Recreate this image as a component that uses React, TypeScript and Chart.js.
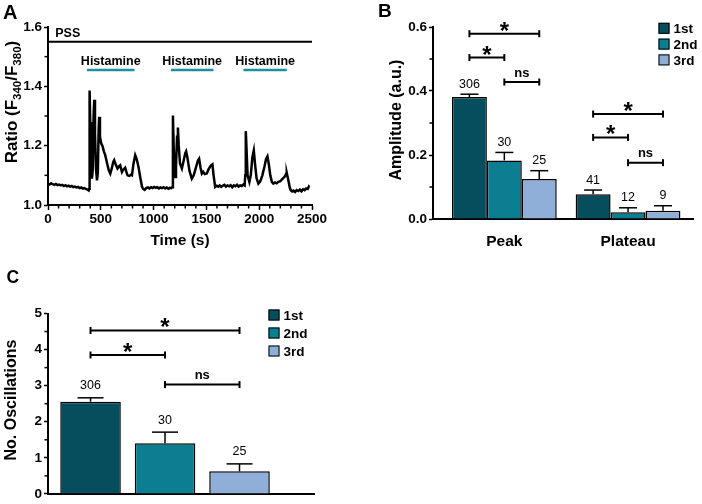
import React, { useEffect, useRef } from "react";
import { Chart, registerables } from "chart.js";
Chart.register(...registerables);

const FONT = '"Liberation Sans", Arial, Helvetica, sans-serif';

// ---------------- Panel A data ----------------
const traceTime = [
  0, 15, 30, 45, 60, 75, 90, 105, 120, 135, 150, 165, 180, 195, 210, 225, 240, 255, 270, 285, 300, 315, 330, 345, 360, 372, 385,
  390, 394, 400, 407, 416, 424, 432, 438, 445, 455, 464, 472, 480, 485, 492, 504, 515, 530, 542, 560, 575, 590, 605, 618, 627,
  640, 658, 672, 684, 700, 715, 731, 745, 753, 770, 785, 795, 810, 826, 840, 857, 875, 890, 899,
  915, 930, 945, 960, 975, 990, 1005, 1020, 1035, 1050, 1065, 1080, 1095, 1110, 1125, 1140, 1155, 1168, 1176,
  1183, 1190, 1197, 1204, 1212, 1222, 1230, 1238, 1250, 1268, 1285, 1300, 1308, 1320, 1340, 1362, 1380, 1400, 1420, 1431,
  1445, 1457, 1470, 1485, 1504, 1520, 1540, 1557, 1568, 1583,
  1598, 1612, 1626, 1640, 1655, 1670, 1685, 1700, 1715, 1730, 1745, 1760, 1775, 1790, 1805, 1820, 1835, 1850, 1862,
  1868, 1873, 1880, 1890, 1907, 1920, 1935, 1949, 1960, 1975, 1992, 2010, 2030, 2050, 2065, 2078, 2090, 2105, 2120, 2134,
  2150, 2165, 2182, 2200, 2220, 2240, 2255, 2261, 2275, 2290, 2299,
  2312, 2325, 2340, 2355, 2370, 2385, 2400, 2415, 2430, 2445, 2460, 2470, 2475,
];
const traceRatio = [
  1.072, 1.069, 1.073, 1.07, 1.068, 1.071, 1.067, 1.069, 1.066, 1.068, 1.064, 1.067, 1.063, 1.065, 1.062, 1.064, 1.06, 1.062, 1.059, 1.061, 1.057, 1.059, 1.055, 1.057, 1.054, 1.052, 1.049,
  1.055, 1.386, 1.28, 1.15, 1.089, 1.12, 1.3, 1.355, 1.24, 1.12, 1.083, 1.11, 1.26, 1.297, 1.23, 1.207, 1.2, 1.18, 1.168, 1.14, 1.118, 1.106, 1.125, 1.145, 1.151,
  1.138, 1.123, 1.13, 1.134, 1.111, 1.12, 1.126, 1.108, 1.1, 1.098, 1.102, 1.1, 1.14, 1.168, 1.155, 1.128, 1.09, 1.062, 1.055,
  1.051, 1.057, 1.059, 1.056, 1.06, 1.057, 1.061, 1.058, 1.06, 1.056, 1.059, 1.057, 1.06, 1.056, 1.059, 1.055, 1.058, 1.057, 1.06,
  1.302, 1.2, 1.12, 1.094, 1.13, 1.23, 1.261, 1.2, 1.14, 1.123, 1.15, 1.175, 1.181, 1.16, 1.115, 1.089, 1.1, 1.125, 1.15, 1.156,
  1.125, 1.106, 1.112, 1.104, 1.106, 1.12, 1.132, 1.137, 1.1, 1.061,
  1.065, 1.062, 1.066, 1.061, 1.065, 1.068, 1.062, 1.066, 1.063, 1.067, 1.06, 1.066, 1.063, 1.068, 1.062, 1.066, 1.064, 1.069, 1.066,
  1.1, 1.249, 1.19, 1.1, 1.078, 1.1, 1.16, 1.184, 1.14, 1.09, 1.072, 1.08, 1.1, 1.13, 1.155, 1.164, 1.14, 1.1, 1.078, 1.072,
  1.076, 1.073, 1.078, 1.08, 1.088, 1.095, 1.105, 1.108, 1.085, 1.058, 1.05,
  1.046, 1.049, 1.044, 1.05, 1.047, 1.052, 1.046, 1.053, 1.05, 1.056, 1.054, 1.062, 1.06,
];
const aXTicks = [0, 500, 1000, 1500, 2000, 2500];
const aYTicks = [1.0, 1.2, 1.4, 1.6];
const aMinorXStep = 100;
const aMinorYStep = 0.1;
const pssLevel = 1.55;
const pssLabel = "PSS";
const pssLabelTime = 69;
const histamineStart = [369, 1164, 1851];
const histamineEnd = [819, 1567, 2261];
const histamineLevel = 1.455;
const histamineLabel = "Histamine";

// ---------------- Panel B data ----------------
const ampGroups = ["Peak", "Plateau"];
const seriesNames = ["1st", "2nd", "3rd"];
const ampFirst = [0.381, 0.077];
const ampSecond = [0.183, 0.021];
const ampThird = [0.125, 0.026];
const ampErrFirst = [0.009, 0.0135];
const ampErrSecond = [0.025, 0.014];
const ampErrThird = [0.026, 0.0155];
const ampNFirst = [306, 41];
const ampNSecond = [30, 12];
const ampNThird = [25, 9];
const ampYTicks = [0, 0.2, 0.4, 0.6];
const ampMinorStep = 0.1;
const ampBrGroup = [0, 0, 0, 1, 1, 1];
const ampBrFrom = [0, 0, 1, 0, 0, 1];
const ampBrTo = [2, 1, 2, 2, 1, 2];
const ampBrLevel = [0.579, 0.5045, 0.428, 0.328, 0.255, 0.176];
const ampBrLabel = ["*", "*", "ns", "*", "*", "ns"];

// ---------------- Panel C data ----------------
const oscMean = [2.555, 1.402, 0.625];
const oscErr = [0.108, 0.31, 0.207];
const oscN = [306, 30, 25];
const oscYTicks = [0, 1, 2, 3, 4, 5];
const oscMinorStep = 0.5;
const oscBrFrom = [0, 0, 1];
const oscBrTo = [2, 1, 2];
const oscBrLevel = [4.53, 3.85, 3.03];
const oscBrLabel = ["*", "*", "ns"];

// ---------------- styles ----------------
const seriesColors = ["#064e5e", "#0b7e92", "#8fafd8"];
const histColor = "#1d8fa3";

function drawLine(ctx: CanvasRenderingContext2D, x1: number, y1: number, x2: number, y2: number) {
  ctx.beginPath();
  ctx.moveTo(x1, y1);
  ctx.lineTo(x2, y2);
  ctx.stroke();
}

function minorY(ctx: CanvasRenderingContext2D, ys: any, majors: number[], step: number, len: number) {
  const min = majors[0];
  const max = majors[majors.length - 1];
  const n = Math.round((max - min) / step);
  for (let i = 0; i <= n; i++) {
    const v = min + i * step;
    if (majors.some((m) => Math.abs(m - v) < 1e-6)) continue;
    const py = ys.getPixelForValue(v);
    drawLine(ctx, ys.right - 1 - len, py, ys.right, py);
  }
}

function rotatedText(ctx: CanvasRenderingContext2D, text: string, cx: number, cy: number, size: number) {
  ctx.save();
  ctx.translate(cx, cy);
  ctx.rotate(-Math.PI / 2);
  ctx.font = `bold ${size}px ${FONT}`;
  ctx.textAlign = "center";
  ctx.textBaseline = "alphabetic";
  ctx.fillText(text, 0, 0);
  ctx.restore();
}

const panelAPlugin = {
  id: "panelA",
  afterDraw(chart: any) {
    const { ctx } = chart;
    const x = chart.scales.x;
    const y = chart.scales.y;
    ctx.save();
    ctx.strokeStyle = "#000";
    ctx.fillStyle = "#000";
    ctx.lineWidth = 1.5;
    for (let t = aXTicks[0]; t <= aXTicks[aXTicks.length - 1]; t += aMinorXStep) {
      if (aXTicks.includes(t)) continue;
      const px = x.getPixelForValue(t);
      drawLine(ctx, px, x.top, px, x.top + 3.5);
    }
    minorY(ctx, y, aYTicks, aMinorYStep, 2.5);
    ctx.lineWidth = 2;
    const py = y.getPixelForValue(pssLevel);
    drawLine(ctx, x.left, py, x.right, py);
    ctx.font = `bold 12.5px ${FONT}`;
    ctx.textAlign = "left";
    ctx.textBaseline = "alphabetic";
    ctx.fillText(pssLabel, x.getPixelForValue(pssLabelTime), py - 5);
    const hy = y.getPixelForValue(histamineLevel);
    for (let i = 0; i < histamineStart.length; i++) {
      const x1 = x.getPixelForValue(histamineStart[i]);
      const x2 = x.getPixelForValue(histamineEnd[i]);
      ctx.strokeStyle = histColor;
      ctx.lineWidth = 2.5;
      drawLine(ctx, x1, hy, x2, hy);
      ctx.textAlign = "center";
      ctx.fillText(histamineLabel, (x1 + x2) / 2, hy - 5);
    }
    ctx.font = `bold 15.5px ${FONT}`;
    ctx.textAlign = "center";
    ctx.fillText("Time (s)", (x.left + x.right) / 2, 245);
    const segs: [string, number, number][] = [
      ["Ratio (F", 17, 0],
      ["340", 11.5, 4],
      ["/F", 17, 0],
      ["380", 11.5, 4],
      [")", 17, 0],
    ];
    let total = 0;
    for (const s of segs) {
      ctx.font = `bold ${s[1]}px ${FONT}`;
      total += ctx.measureText(s[0]).width;
    }
    ctx.save();
    ctx.translate(16.5, 102);
    ctx.rotate(-Math.PI / 2);
    ctx.textAlign = "left";
    let cx = -total / 2;
    for (const s of segs) {
      ctx.font = `bold ${s[1]}px ${FONT}`;
      ctx.fillText(s[0], cx, s[2]);
      cx += ctx.measureText(s[0]).width;
    }
    ctx.restore();
    ctx.font = `bold 20px ${FONT}`;
    ctx.textAlign = "left";
    ctx.fillText("A", 3, 18.5);
    ctx.restore();
  },
};

function makeBarPlugin(o: any) {
  return {
    id: "bars" + o.letter,
    afterDraw(chart: any) {
      const { ctx } = chart;
      const y = chart.scales.y;
      ctx.save();
      ctx.strokeStyle = "#000";
      ctx.fillStyle = "#000";
      ctx.lineWidth = 1.5;
      minorY(ctx, y, o.yTicks, o.minorStep, 2.5);
      for (let s = 0; s < o.means.length; s++) {
        for (let g = 0; g < o.means[s].length; g++) {
          const el = o.getBar(chart, s, g);
          const base = y.getPixelForValue(o.means[s][g]);
          const top = y.getPixelForValue(o.means[s][g] + o.errs[s][g]);
          ctx.lineWidth = 1.5;
          drawLine(ctx, el.x, base, el.x, top);
          drawLine(ctx, el.x - o.capW / 2, top, el.x + o.capW / 2, top);
          ctx.font = `12.5px ${FONT}`;
          ctx.textAlign = "center";
          ctx.textBaseline = "alphabetic";
          ctx.fillText(String(o.ns[s][g]), el.x, top - o.nGap);
        }
      }
      for (let k = 0; k < o.br.level.length; k++) {
        const g = o.br.group[k];
        const xa = o.getBar(chart, o.br.from[k], g).x;
        const xb = o.getBar(chart, o.br.to[k], g).x;
        const py = y.getPixelForValue(o.br.level[k]);
        ctx.lineWidth = 2;
        drawLine(ctx, xa, py, xb, py);
        drawLine(ctx, xa, py - 3.5, xa, py + 3.5);
        drawLine(ctx, xb, py - 3.5, xb, py + 3.5);
        ctx.textAlign = "center";
        if (o.br.label[k] === "*") {
          ctx.font = `bold 24px ${FONT}`;
          ctx.fillText("*", (xa + xb) / 2, py + 5);
        } else {
          ctx.font = `bold 13px ${FONT}`;
          ctx.fillText(o.br.label[k], (xa + xb) / 2, py - 5.5);
        }
      }
      for (let i = 0; i < seriesNames.length; i++) {
        const cy = o.legY + i * o.legStep;
        ctx.fillStyle = seriesColors[i];
        ctx.fillRect(o.legX, cy - o.legBox / 2, o.legBox, o.legBox);
        ctx.lineWidth = 1;
        ctx.strokeStyle = "#000";
        ctx.strokeRect(o.legX + 0.5, cy - o.legBox / 2 + 0.5, o.legBox - 1, o.legBox - 1);
        ctx.fillStyle = "#000";
        ctx.font = `bold 13.5px ${FONT}`;
        ctx.textAlign = "left";
        ctx.textBaseline = "middle";
        ctx.fillText(seriesNames[i], o.legX + o.legBox + 4, cy + 1);
      }
      ctx.textBaseline = "alphabetic";
      rotatedText(ctx, o.title, o.titleX, o.titleY, 16);
      ctx.font = `bold ${o.letterSize}px ${FONT}`;
      ctx.textAlign = "left";
      ctx.fillText(o.letter, o.letterX, o.letterY);
      ctx.restore();
    },
  };
}

const tickFont = { family: FONT, size: 13.5, weight: "bold" as const };

function yScale(min: number, max: number, ticks: number[], width: number, fmt: (v: number) => string) {
  return {
    type: "linear",
    min,
    max,
    afterFit: (s: any) => {
      s.width = width;
    },
    afterBuildTicks: (s: any) => {
      s.ticks = ticks.map((v) => ({ value: v }));
    },
    grid: { drawOnChartArea: false, tickLength: 4, tickWidth: 1.5, tickColor: "#000" },
    border: { color: "#000", width: 2 },
    ticks: { color: "#000", font: tickFont, padding: 2, callback: (v: any) => fmt(Number(v)) },
  };
}

function makeA() {
  return {
    type: "line",
    data: {
      datasets: [
        {
          data: traceTime.map((t, i) => ({ x: t, y: traceRatio[i] })),
          borderColor: "#000",
          borderWidth: 2.5,
          pointRadius: 0,
          tension: 0,
          fill: false,
        },
      ],
    },
    options: {
      responsive: false,
      animation: false,
      devicePixelRatio: 1,
      layout: { padding: { left: 0, top: 27, right: 18, bottom: 0 } },
      plugins: { legend: { display: false }, tooltip: { enabled: false } },
      scales: {
        x: {
          type: "linear",
          min: 0,
          max: 2500,
          afterFit: (s: any) => {
            s.height = 45;
          },
          afterBuildTicks: (s: any) => {
            s.ticks = aXTicks.map((v) => ({ value: v }));
          },
          grid: { drawOnChartArea: false, tickLength: 5, tickWidth: 1.5, tickColor: "#000" },
          border: { color: "#000", width: 2 },
          ticks: { color: "#000", font: tickFont, padding: 1, maxRotation: 0, autoSkip: false, callback: (v: any) => String(v) },
        },
        y: yScale(1.0, 1.6, aYTicks, 48, (v) => v.toFixed(1)),
      },
    },
    plugins: [panelAPlugin],
  };
}

function makeB() {
  const series = [ampFirst, ampSecond, ampThird];
  return {
    type: "bar",
    data: {
      datasets: series.map((vals, s) => ({
        label: seriesNames[s],
        data: vals.map((v, g) => ({ x: g + 1, y: v })),
        backgroundColor: seriesColors[s],
        borderColor: "#000",
        borderWidth: 1.5,
        categoryPercentage: 0.847,
        barPercentage: 1,
      })),
    },
    options: {
      responsive: false,
      animation: false,
      devicePixelRatio: 1,
      layout: { padding: { left: 0, top: 27, right: 9, bottom: 0 } },
      plugins: { legend: { display: false }, tooltip: { enabled: false } },
      scales: {
        x: {
          type: "linear",
          min: 0.4234,
          max: 2.525,
          offset: false,
          afterFit: (s: any) => {
            s.height = 31;
          },
          afterBuildTicks: (s: any) => {
            s.ticks = ampGroups.map((_, i) => ({ value: i + 1 }));
          },
          grid: { drawOnChartArea: false, drawTicks: false, offset: false },
          border: { color: "#000", width: 2 },
          ticks: {
            color: "#000",
            font: { family: FONT, size: 15.5, weight: "bold" },
            padding: 13,
            maxRotation: 0,
            autoSkip: false,
            callback: (v: any) => ampGroups[Math.round(Number(v)) - 1] ?? "",
          },
        },
        y: yScale(0, 0.6, ampYTicks, 83, (v) => v.toFixed(1)),
      },
    },
    plugins: [
      makeBarPlugin({
        letter: "B",
        letterX: 28,
        letterY: 17,
        letterSize: 19,
        title: "Amplitude (a.u.)",
        titleX: 50.5,
        titleY: 120,
        yTicks: ampYTicks,
        minorStep: ampMinorStep,
        means: series,
        errs: [ampErrFirst, ampErrSecond, ampErrThird],
        ns: [ampNFirst, ampNSecond, ampNThird],
        nGap: 6.5,
        capW: 18,
        br: { group: ampBrGroup, from: ampBrFrom, to: ampBrTo, level: ampBrLevel, label: ampBrLabel },
        getBar: (chart: any, s: number, g: number) => chart.getDatasetMeta(s).data[g],
        legX: 308.5,
        legY: 28.3,
        legStep: 15.8,
        legBox: 11,
      }),
    ],
  };
}

function makeC() {
  return {
    type: "bar",
    data: {
      datasets: [
        {
          data: oscMean.map((v, i) => ({ x: i + 1, y: v })),
          backgroundColor: seriesColors,
          borderColor: "#000",
          borderWidth: 1.5,
          categoryPercentage: 0.813,
          barPercentage: 1,
        },
      ],
    },
    options: {
      responsive: false,
      animation: false,
      devicePixelRatio: 1,
      layout: { padding: { left: 0, top: 63.5, right: 16, bottom: 0 } },
      plugins: { legend: { display: false }, tooltip: { enabled: false } },
      scales: {
        x: {
          type: "linear",
          min: 0.429,
          max: 4.0,
          offset: false,
          afterFit: (s: any) => {
            s.height = 7;
          },
          afterBuildTicks: (s: any) => {
            s.ticks = oscMean.map((_, i) => ({ value: i + 1 }));
          },
          grid: { drawOnChartArea: false, drawTicks: false, offset: false },
          border: { color: "#000", width: 2 },
          ticks: { display: false },
        },
        y: yScale(0, 5, oscYTicks, 48, (v) => String(Math.round(v))),
      },
    },
    plugins: [
      makeBarPlugin({
        letter: "C",
        letterX: 6.5,
        letterY: 32.5,
        letterSize: 17.5,
        title: "No. Oscillations",
        titleX: 15.5,
        titleY: 150,
        yTicks: oscYTicks,
        minorStep: oscMinorStep,
        means: oscMean.map((v) => [v]),
        errs: oscErr.map((v) => [v]),
        ns: oscN.map((v) => [v]),
        nGap: 8.5,
        capW: 26,
        br: { group: oscBrFrom.map(() => 0), from: oscBrFrom, to: oscBrTo, level: oscBrLevel, label: oscBrLabel },
        getBar: (chart: any, s: number) => chart.getDatasetMeta(0).data[s],
        legX: 268.5,
        legY: 65,
        legStep: 18,
        legBox: 11,
      }),
    ],
  };
}

function ChartBox(props: { left: number; top: number; width: number; height: number; make: () => any }) {
  const ref = useRef<HTMLCanvasElement>(null);
  useEffect(() => {
    const chart = new Chart(ref.current as HTMLCanvasElement, props.make());
    return () => chart.destroy();
  }, []);
  return (
    <canvas
      ref={ref}
      width={props.width}
      height={props.height}
      style={{ position: "absolute", left: props.left, top: props.top, width: props.width, height: props.height }}
    />
  );
}

export default function App() {
  return (
    <div style={{ position: "fixed", left: 0, top: 0, width: 702, height: 504, background: "#fff", overflow: "hidden" }}>
      <ChartBox left={0} top={0} width={330} height={250} make={makeA} />
      <ChartBox left={350} top={0} width={352} height={250} make={makeB} />
      <ChartBox left={0} top={250} width={330} height={254} make={makeC} />
    </div>
  );
}
